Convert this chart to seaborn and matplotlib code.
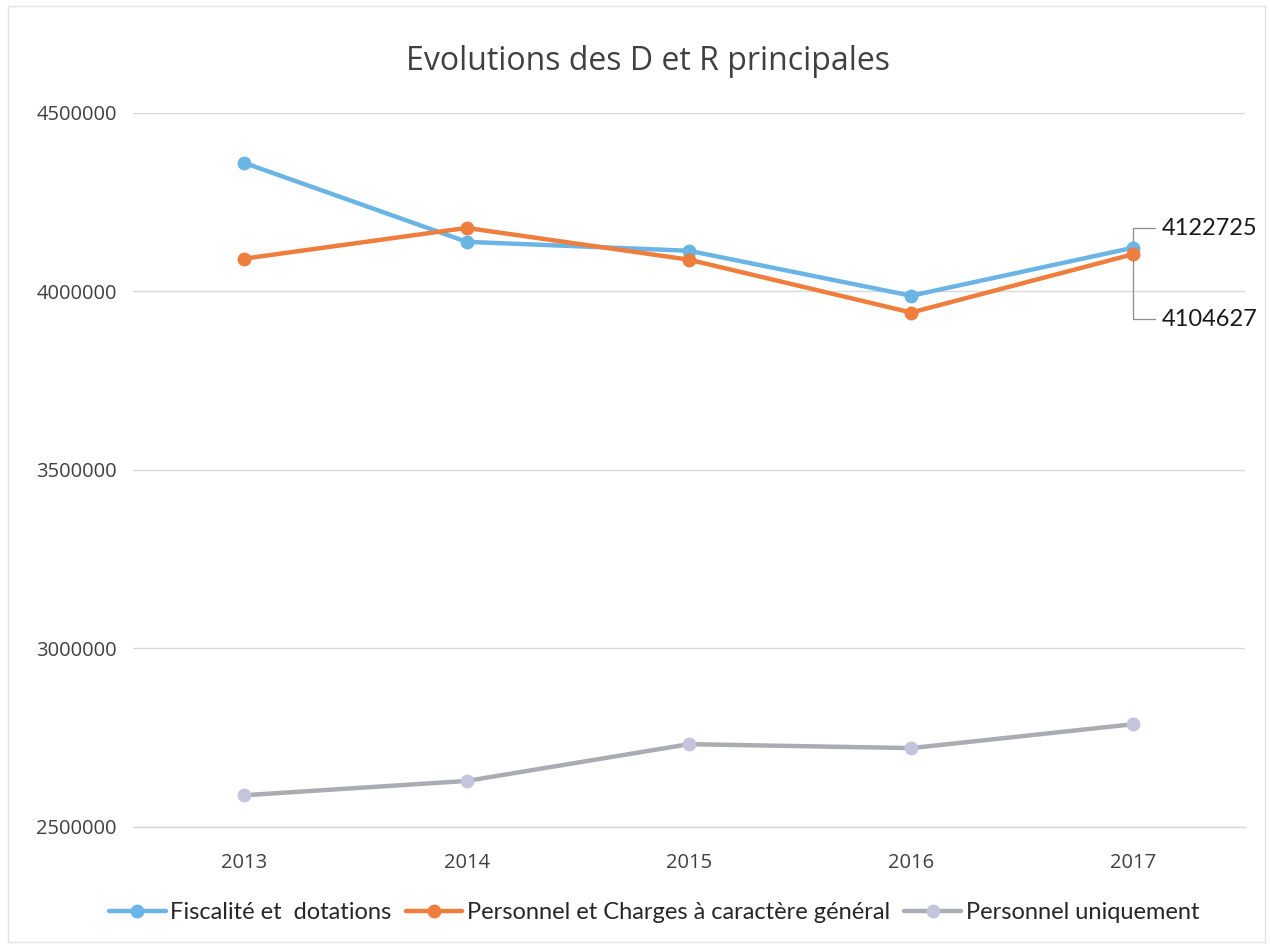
import pandas as pd
import matplotlib
matplotlib.use("Agg")
import matplotlib.pyplot as plt
import seaborn as sns
from matplotlib.patches import Rectangle

# Data
annees = ["2013", "2014", "2015", "2016", "2017"]
fiscalite = [4360000, 4139000, 4114000, 3988000, 4122725]
personnel_charges = [4092000, 4178000, 4089000, 3941000, 4104627]
personnel_seul = [2589000, 2629000, 2732000, 2721000, 2788000]

series = ["Fiscalité et  dotations", "Personnel et Charges à caractère général", "Personnel uniquement"]
couleurs = ["#6AB4E6", "#EE7D3E", "#ABABB4"]
marqueurs = ["#6AB4E6", "#EE7D3E", "#C4C4DA"]

rows = []
for nom, vals in zip(series, [fiscalite, personnel_charges, personnel_seul]):
    for i, v in enumerate(vals):
        rows.append({"x": i, "valeur": v, "serie": nom})
df = pd.DataFrame(rows)

sns.set_style("white")
plt.rcParams['font.family'] = ['Open Sans', 'DejaVu Sans']

fig = plt.figure(figsize=(12.7, 9.46), dpi=100)
ax = fig.add_axes([0.105, 0.1258, 0.875, 0.7548])

sns.lineplot(data=df, x="x", y="valeur", hue="serie", hue_order=series,
             palette=couleurs, marker="o", markersize=10, linewidth=3.2,
             markeredgewidth=0, ax=ax, legend=False)

# marker colours (grey series has lavender markers)
for line, mc in zip(ax.get_lines(), marqueurs):
    line.set_markerfacecolor(mc)
    line.set_markeredgecolor(mc)

ax.set_xlim(-0.5, 4.5)
ax.set_ylim(2500000, 4500000)
ax.set_yticks([2500000, 3000000, 3500000, 4000000, 4500000])
ax.set_yticklabels(["2500000", "3000000", "3500000", "4000000", "4500000"])
ax.set_xticks(range(len(annees)))
ax.set_xticklabels(annees)
ax.tick_params(axis="both", length=0, labelsize=14.5, colors="#404040")
ax.tick_params(axis="x", pad=19)
ax.tick_params(axis="y", pad=12)
ax.set_xlabel("")
ax.set_ylabel("")
ax.yaxis.grid(True, color="#D9D9D9", linewidth=1)
ax.set_axisbelow(True)
for s in ax.spines.values():
    s.set_visible(False)
ax.axhline(2500000, color="#D9D9D9", linewidth=1, zorder=0, clip_on=False)

fig.text(0.51, 0.935, "Evolutions des D et R principales", ha="center", va="center",
         fontsize=23, color="#404040")

# data labels for 2017
lab = dict(ha="left", va="center", fontsize=17, color="#1A1A1A", family=["Lato", "DejaVu Sans"])
fleche = dict(arrowstyle="-", color="#8C8C8C", lw=0.9, shrinkA=2, shrinkB=4,
              connectionstyle="angle,angleA=180,angleB=90,rad=0")
ax.annotate(str(fiscalite[4]), xy=(4, fiscalite[4]), xytext=(20, 14), textcoords="offset points",
            arrowprops=fleche, **lab)
ax.annotate(str(personnel_charges[4]), xy=(4, personnel_charges[4]), xytext=(20, -47), textcoords="offset points",
            arrowprops=fleche, **lab)

# legend
handles = [plt.Line2D([], [], color=c, marker="o", markersize=10, markerfacecolor=m,
                      markeredgewidth=0, linewidth=3.2) for c, m in zip(couleurs, marqueurs)]
leg = fig.legend(handles, series, loc="center", bbox_to_anchor=(0.515, 0.035), ncol=3, frameon=False,
                 handlelength=2.4, handletextpad=0.2, columnspacing=0.6,
                 prop={"family": ["Lato", "DejaVu Sans"], "size": 17})
for t in leg.get_texts():
    t.set_color("#262626")

fig.patches.append(Rectangle((0.006, 0.004), 0.99, 0.99, transform=fig.transFigure,
                             fill=False, edgecolor="#E2E2E2", linewidth=1))

fig.savefig("out.png", dpi=100)
